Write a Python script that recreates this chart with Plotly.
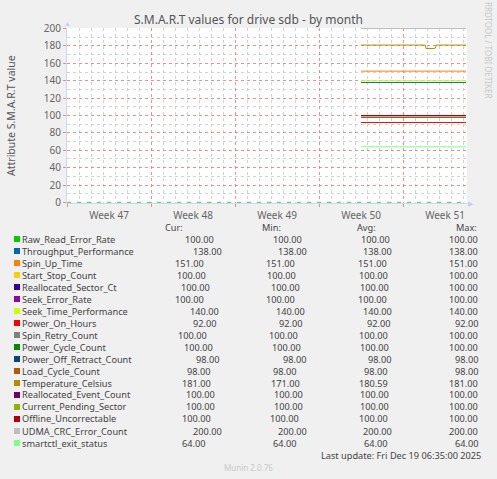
import plotly.graph_objects as go

# legend table
names = ["Raw_Read_Error_Rate", "Throughput_Performance", "Spin_Up_Time", "Start_Stop_Count",
         "Reallocated_Sector_Ct", "Seek_Error_Rate", "Seek_Time_Performance", "Power_On_Hours",
         "Spin_Retry_Count", "Power_Cycle_Count", "Power_Off_Retract_Count", "Load_Cycle_Count",
         "Temperature_Celsius", "Reallocated_Event_Count", "Current_Pending_Sector",
         "Offline_Uncorrectable", "UDMA_CRC_Error_Count", "smartctl_exit_status"]
colors = ["#00CC00", "#0066B3", "#FF8000", "#FFCC00", "#330099", "#990099", "#CCFF00", "#FF0000",
          "#808080", "#008F00", "#00487D", "#B35A00", "#B38F00", "#6B006B", "#8FB300",
          "#B30000", "#BEBEBE", "#80FF80"]
cur_vals = [100, 138, 151, 100, 100, 100, 140, 92, 100, 100, 98, 98, 181, 100, 100, 100, 200, 64]
min_vals = [100, 138, 151, 100, 100, 100, 140, 92, 100, 100, 98, 98, 171, 100, 100, 100, 200, 64]
avg_vals = [100, 138, 151, 100, 100, 100, 140, 92, 100, 100, 98, 98, 180.59, 100, 100, 100, 200, 64]
max_vals = [100, 138, 151, 100, 100, 100, 140, 92, 100, 100, 98, 98, 181, 100, 100, 100, 200, 64]

# the lines only exist for the last days of the month window
line_times = ["2025-12-11 12:00", "2025-12-20 06:00"]
temp_times = ["2025-12-11 12:00", "2025-12-16 20:30", "2025-12-16 22:00", "2025-12-17 04:00",
              "2025-12-17 10:00", "2025-12-17 16:30", "2025-12-17 18:30", "2025-12-20 06:00"]
temp_values = [181, 181, 177, 177.4, 177, 177.3, 181, 181]

# dashed rule along zero over the whole window
zero_times = ["2025-11-17 00:00", "2025-12-20 08:00"]
zero_values = [0, 0]

W, H = 497, 479
L, R, T, B = 67, 30, 28, 276
PW, PH = W - L - R, H - T - B
FONT = "Noto Sans"
LEG = 9.2

# rrdtool pads with spaces, so the number columns wobble a little per row (right edges, px)
cur_right = [215, 223, 205, 207, 211, 205, 220, 217, 208, 214, 220, 211, 212, 216, 216, 212, 223, 206]
min_right = [303, 308, 296, 297, 301, 296, 306, 303, 299, 302, 307, 297, 301, 304, 304, 300, 308, 297]
avg_right = [391, 393, 388, 389, 390, 388, 393, 391, 389, 390, 392, 388, 389, 390, 390, 389, 393, 388]
max_right = [479] * len(names)


def xp(px):
    return (px - L) / PW


def yp(py):
    return (H - B - py) / PH


fig = go.Figure()
fig.add_trace(go.Scatter(x=zero_times, y=zero_values, mode="lines", hoverinfo="skip",
                         line=dict(color="#5FDC5F", width=1.5, dash="4px,6px")))
for i, name in enumerate(names):
    if name == "Temperature_Celsius":
        xs, ys = temp_times, temp_values
    else:
        xs, ys = line_times, [cur_vals[i]] * len(line_times)
    fig.add_trace(go.Scatter(x=xs, y=ys, mode="lines", name=name,
                             line=dict(color=colors[i], width=1)))

ann = []
# title and side texts
ann.append(dict(text="S.M.A.R.T values for drive sdb - by month", x=xp(248), y=yp(20),
                xanchor="center", yanchor="middle", font=dict(size=12, color="#555555")))
ann.append(dict(text="Attribute S.M.A.R.T value", x=xp(11), y=yp(115), textangle=-90,
                xanchor="center", yanchor="middle", font=dict(size=10.5, color="#555555")))
ann.append(dict(text="RRDTOOL / TOBI OETIKER", x=xp(488), y=yp(50), textangle=90,
                xanchor="center", yanchor="middle", font=dict(size=8, color="#C8C8C8")))
ann.append(dict(text="▲", x=xp(67), y=yp(24), xanchor="center", yanchor="middle",
                font=dict(size=7, color="#C8CDF5")))
ann.append(dict(text="▶", x=xp(471), y=yp(203), xanchor="center", yanchor="middle",
                font=dict(size=7, color="#C8CDF5")))

head_left = [164, 261, 356, 455]
for txt, xl in zip(["Cur:", "Min:", "Avg:", "Max:"], head_left):
    ann.append(dict(text=txt, x=xp(xl), y=yp(227), xanchor="left", yanchor="middle",
                    font=dict(size=LEG, color="#444444")))

shapes = []
for i, name in enumerate(names):
    row_y = 239 + 12 * i
    shapes.append(dict(type="rect", xref="paper", yref="paper", x0=xp(14), x1=xp(20),
                       y0=yp(row_y + 3), y1=yp(row_y - 3), fillcolor=colors[i], line_width=0))
    ann.append(dict(text=name, x=xp(20.5), y=yp(row_y), xanchor="left", yanchor="middle",
                    font=dict(size=LEG, color="#444444")))
    for vals, rights in zip([cur_vals, min_vals, avg_vals, max_vals],
                            [cur_right, min_right, avg_right, max_right]):
        ann.append(dict(text="%.2f" % vals[i], x=xp(rights[i]), y=yp(row_y), xanchor="right",
                        yanchor="middle", font=dict(size=LEG, color="#444444")))

ann.append(dict(text="Last update: Fri Dec 19 06:35:00 2025", x=xp(482), y=yp(455.5),
                xanchor="right", yanchor="middle", font=dict(size=LEG, color="#444444")))
ann.append(dict(text="Munin 2.0.76", x=xp(248), y=yp(467), xanchor="center", yanchor="middle",
                font=dict(size=8, color="#C8C8C8")))

for a in ann:
    a.update(xref="paper", yref="paper", showarrow=False, borderpad=0)

fig.update_layout(
    width=W, height=H, margin=dict(l=L, r=R, t=T, b=B, pad=0),
    paper_bgcolor="#F0F0F0", plot_bgcolor="white", showlegend=False,
    font=dict(family=FONT, size=10, color="#666666"),
    annotations=ann, shapes=shapes,
)
fig.update_xaxes(
    type="date", range=["2025-11-17 00:00", "2025-12-20 08:00"],
    tick0="2025-11-17", dtick=7 * 86400000, ticklabelmode="period", tickformat="Week %V",
    showgrid=True, gridcolor="rgba(225,110,110,0.75)", griddash="dot", gridwidth=1,
    minor=dict(dtick=86400000, showgrid=True, gridcolor="#D2D2D2", griddash="dot",
               ticks=""),
    ticks="outside", ticklen=3, tickcolor="rgba(225,110,110,0.75)",
    showline=True, linecolor="#CFD6F8", linewidth=1, zeroline=False,
    tickfont=dict(size=10, color="#666666"),
)
fig.update_yaxes(
    range=[-0.6, 200.6], tickvals=[0, 20, 40, 60, 80, 100, 120, 140, 160, 180, 200],
    showgrid=True, gridcolor="rgba(225,110,110,0.75)", griddash="dot", gridwidth=1,
    minor=dict(tickvals=[10, 30, 50, 70, 90, 110, 130, 150, 170, 190], showgrid=True,
               gridcolor="#D2D2D2", griddash="dot", ticks=""),
    ticks="outside", ticklen=3, tickcolor="rgba(225,110,110,0.75)",
    showline=True, linecolor="#CFD6F8", linewidth=1, zeroline=False,
    tickfont=dict(size=10, color="#666666"),
)

# page has a default 8px body margin; drop it so the figure sits at the corner
fig.write_html("out.html", config={"displayModeBar": False},
               post_script="document.body.style.margin='0';")
